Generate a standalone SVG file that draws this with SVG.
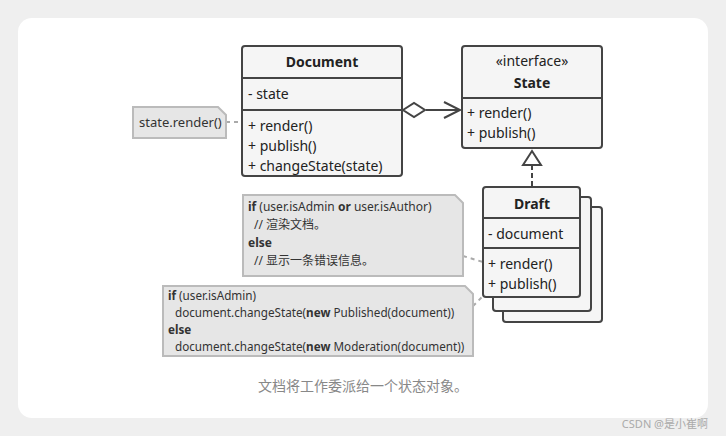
<svg xmlns="http://www.w3.org/2000/svg" width="726" height="436" viewBox="0 0 726 436">
<style>
text{font-family:"Noto Sans","Noto Sans CJK SC",sans-serif;font-size:14px;fill:#222}
.box{fill:#f5f5f5;stroke:#444;stroke-width:2}
.ln{stroke:#444;stroke-width:2;fill:none}
.note{fill:#e6e6e6;stroke:#bbb;stroke-width:2}
.nt{font-size:12px;fill:#333}
.n2{font-size:11.7px}
.b{font-weight:bold}
.dash{stroke:#aaa;stroke-width:2;stroke-dasharray:4 4;fill:none}
</style>
<rect width="726" height="436" fill="#efefef"/>
<rect x="18" y="18" width="690" height="400" rx="14" fill="#fff"/>
<g id="connectors">
<path class="dash" d="M226 122H242"/>
<path class="dash" d="M463 256L483 262"/>
<path class="dash" d="M473 306L483 296"/>
<path class="ln" d="M426 110H458M444 102L460 110L444 118"/>
<path d="M403 110L414 103L425 110L414 117Z" fill="#fff" stroke="#444" stroke-width="2"/>
<path class="ln" d="M532 165V187" stroke-dasharray="5 3"/>
<path d="M523 165L532 151L541 165Z" fill="#fff" stroke="#444" stroke-width="2"/>
</g>
<g id="document">
<rect class="box" x="242" y="46" width="160" height="130" rx="3"/>
<path class="ln" d="M242 78H402M242 110H402"/>
<text x="322" y="67" text-anchor="middle" class="b">Document</text>
<text x="248" y="99">- state</text>
<text x="248" y="131">+ render()</text>
<text x="248" y="151">+ publish()</text>
<text x="248" y="171">+ changeState(state)</text>
</g>
<g id="state">
<rect class="box" x="462" y="46" width="140" height="102" rx="3"/>
<path class="ln" d="M462 98H602"/>
<text x="532" y="66" text-anchor="middle">«interface»</text>
<text x="532" y="88" text-anchor="middle" class="b">State</text>
<text x="467" y="118">+ render()</text>
<text x="467" y="138">+ publish()</text>
</g>
<g id="draft">
<rect class="box" x="503" y="207" width="99" height="115" rx="3"/>
<rect class="box" x="493" y="197" width="98" height="114" rx="3"/>
<rect class="box" x="483" y="187" width="97" height="110" rx="3"/>
<path class="ln" d="M483 218H580M483 248H580"/>
<text x="532" y="209" text-anchor="middle" class="b">Draft</text>
<text x="488" y="239">- document</text>
<text x="488" y="269">+ render()</text>
<text x="488" y="289">+ publish()</text>
</g>
<g id="note-render">
<path class="note" d="M133 107H218L226 115V138H133Z"/>
<text x="139" y="127" class="nt" style="font-size:13px">state.render()</text>
</g>
<g id="note-draft-render">
<path class="note" d="M243 195H455L463 203V276H243Z"/>
<text x="248" y="211" class="nt"><tspan class="b">if</tspan> (user.isAdmin <tspan class="b">or</tspan> user.isAuthor)</text>
<text x="254" y="229" class="nt">// 渲染文档。</text>
<text x="248" y="247" class="nt b">else</text>
<text x="254" y="265" class="nt">// 显示一条错误信息。</text>
</g>
<g id="note-draft-publish">
<path class="note" d="M163 286H465L473 294V356H163Z"/>
<text x="168" y="300" class="nt n2"><tspan class="b">if</tspan> (user.isAdmin)</text>
<text x="175" y="317" class="nt n2">document.changeState(<tspan class="b">new</tspan> Published(document))</text>
<text x="168" y="334" class="nt n2 b">else</text>
<text x="175" y="351" class="nt n2">document.changeState(<tspan class="b">new</tspan> Moderation(document))</text>
</g>
<text x="363" y="391" text-anchor="middle" style="font-size:14px;fill:#888">文档将工作委派给一个状态对象。</text>
<text x="708" y="428" text-anchor="end" style="font-size:11px;fill:#aaa">CSDN @是小崔啊</text>
</svg>
